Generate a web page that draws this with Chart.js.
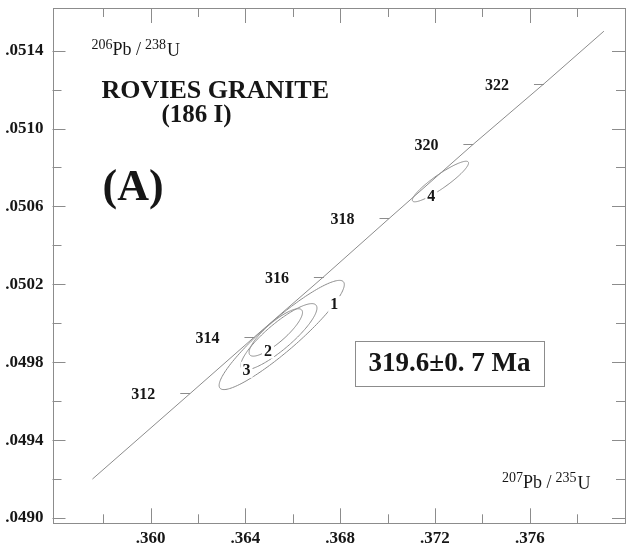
<!DOCTYPE html>
<html>
<head>
<meta charset="utf-8">
<script src="https://cdn.jsdelivr.net/npm/chart.js@4.4.1/dist/chart.umd.min.js"></script>
<style>
  html, body { margin: 0; padding: 0; background: #fff; }
  #wrap { width: 627px; height: 550px; }
</style>
</head>
<body>
<div id="wrap"><canvas id="chart" width="627" height="550"></canvas></div>
<script>
// Concordia: marked ages (Ma) with their 207Pb/235U and 206Pb/238U ratios
const concordiaAges = [312, 314, 316, 318, 320, 322];
const concordiaX = [0.36167, 0.36438, 0.36731, 0.37008, 0.37362, 0.37660];
const concordiaY = [0.04964, 0.04993, 0.05024, 0.05054, 0.05092, 0.05123];
// ends of the drawn concordia segment
const concordiaEndX = [0.35754, 0.37913];
const concordiaEndY = [0.04920, 0.05150];

// Zircon analyses: centres, half-extents of the error ellipses and error correlation
const spotLabels = ['1', '2', '3', '4'];
const spotX = [0.36553, 0.36528, 0.36541, 0.37223];
const spotY = [0.049940, 0.049953, 0.049931, 0.050728];
const spotHalfX = [0.002642, 0.001127, 0.001608, 0.001186];
const spotHalfY = [0.0002804, 0.0001217, 0.0001700, 0.0001042];
const spotRho = [0.923, 0.842, 0.866, 0.912];

// Axis ticks
const xMajorTicks = [0.360, 0.364, 0.368, 0.372, 0.376];
const xTickLabels = ['.360', '.364', '.368', '.372', '.376'];
const xMinorTicks = [0.358, 0.362, 0.366, 0.370, 0.374, 0.378];
const yMajorTicks = [0.0490, 0.0494, 0.0498, 0.0502, 0.0506, 0.0510, 0.0514];
const yTickLabels = ['.0490', '.0494', '.0498', '.0502', '.0506', '.0510', '.0514'];
const yMinorTicks = [0.0492, 0.0496, 0.0500, 0.0504, 0.0508, 0.0512];

const sampleName = 'ROVIES GRANITE';
const sampleCode = '(186 I)';
const panelTag = '(A)';
const ageResult = '319.6±0. 7 Ma';

// ---- layout / style ----
const X_MIN = 0.355855, X_MAX = 0.38002;
const Y_MIN = 0.048973, Y_MAX = 0.051619;
const LINE = '#8c8c8c';
const INK = '#161616';
const SERIF = '"Liberation Serif", "DejaVu Serif", serif';
const labelAngleDeg = [-33, -107, -148, -109];   // where each spot number sits on its ellipse
const resultAnchor = { x: 0.372612, y: 0.049798 }; // centre of the result box

const concordiaPoints = [{ x: concordiaEndX[0], y: concordiaEndY[0] }]
  .concat(concordiaX.map((v, i) => ({ x: v, y: concordiaY[i] })))
  .concat([{ x: concordiaEndX[1], y: concordiaEndY[1] }]);

function ellipsePoint(i, t) {
  const s = Math.sqrt(1 - spotRho[i] * spotRho[i]);
  return {
    x: spotX[i] + spotHalfX[i] * Math.cos(t),
    y: spotY[i] + spotHalfY[i] * (spotRho[i] * Math.cos(t) + s * Math.sin(t))
  };
}

function drawRatio(ctx, x0, base, massA, elA, massB, elB) {
  const small = '14px ' + SERIF, big = '18px ' + SERIF;
  const parts = [
    [massA, small, -6, 0], [elA, big, 0, 0], [' /', big, 0, 4],
    [massB, small, -6, 1], [elB, big, 1, 0]
  ];
  let x = x0;
  ctx.textAlign = 'left';
  ctx.textBaseline = 'alphabetic';
  parts.forEach(([txt, f, dy, gap]) => {
    ctx.font = f;
    ctx.fillText(txt, x, base + dy);
    x += ctx.measureText(txt).width + gap;
  });
}

const overlay = {
  id: 'overlay',
  afterDatasetsDraw(chart) {
    const { ctx, chartArea: a, scales: { x, y } } = chart;
    ctx.save();

    // frame
    ctx.strokeStyle = LINE;
    ctx.lineWidth = 1;
    ctx.strokeRect(Math.round(a.left) + 0.5, Math.round(a.top) + 0.5,
                   Math.round(a.right - a.left) - 1, Math.round(a.bottom - a.top));

    // inward ticks on all four sides
    const tick = (x1, y1, x2, y2) => {
      ctx.beginPath(); ctx.moveTo(x1, y1); ctx.lineTo(x2, y2); ctx.stroke();
    };
    const xt = (vals, len) => vals.forEach(v => {
      const px = Math.round(x.getPixelForValue(v)) + 0.5;
      tick(px, a.bottom, px, a.bottom - len);
      tick(px, a.top, px, a.top + len);
    });
    const yt = (vals, len) => vals.forEach(v => {
      const py = Math.round(y.getPixelForValue(v)) + 0.5;
      tick(a.left, py, a.left + len, py);
      tick(a.right, py, a.right - len, py);
    });
    xt(xMajorTicks, 15); xt(xMinorTicks, 9);
    yt(yMajorTicks, 13); yt(yMinorTicks, 9);

    // age marks on the concordia
    ctx.font = 'bold 16px ' + SERIF;
    ctx.fillStyle = INK;
    ctx.textAlign = 'right';
    ctx.textBaseline = 'middle';
    concordiaAges.forEach((age, i) => {
      const px = x.getPixelForValue(concordiaX[i]);
      const py = Math.round(y.getPixelForValue(concordiaY[i])) + 0.5;
      tick(px - 10, py, px, py);
      ctx.fillText(String(age), px - 35, py + 1);
    });

    // error ellipses
    ctx.strokeStyle = LINE;
    spotLabels.forEach((lab, i) => {
      ctx.beginPath();
      const n = 160;
      for (let k = 0; k <= n; k++) {
        const p = ellipsePoint(i, 2 * Math.PI * k / n);
        const px = x.getPixelForValue(p.x), py = y.getPixelForValue(p.y);
        if (k === 0) ctx.moveTo(px, py); else ctx.lineTo(px, py);
      }
      ctx.closePath();
      ctx.stroke();
    });
    // spot numbers, knocked out of the ellipse outline
    ctx.font = 'bold 16px ' + SERIF;
    ctx.textAlign = 'center';
    ctx.textBaseline = 'middle';
    spotLabels.forEach((lab, i) => {
      const p = ellipsePoint(i, labelAngleDeg[i] * Math.PI / 180);
      const px = x.getPixelForValue(p.x), py = y.getPixelForValue(p.y);
      ctx.fillStyle = '#fff';
      ctx.fillRect(px - 6, py - 8, 12, 16);
      ctx.fillStyle = INK;
      ctx.fillText(lab, px, py + 1);
    });

    // sample name and panel tag
    ctx.fillStyle = INK;
    ctx.textAlign = 'left';
    ctx.textBaseline = 'alphabetic';
    ctx.font = 'bold 26px ' + SERIF;
    ctx.fillText(sampleName, a.left + 49, a.top + 90);
    ctx.textAlign = 'center';
    ctx.font = 'bold 25px ' + SERIF;
    ctx.fillText(sampleCode, a.left + 144, a.top + 114);
    ctx.textAlign = 'left';
    ctx.font = 'bold 44px ' + SERIF;
    ctx.fillText(panelTag, a.left + 50, a.top + 192);

    // isotope ratio axis names
    ctx.fillStyle = INK;
    drawRatio(ctx, a.left + 39, a.top + 47, '206', 'Pb', '238', 'U');
    drawRatio(ctx, a.right - 123, a.bottom - 35, '207', 'Pb', '235', 'U');

    // concordia age result
    const bx = x.getPixelForValue(resultAnchor.x), by = y.getPixelForValue(resultAnchor.y);
    ctx.font = 'bold 27px ' + SERIF;
    ctx.textAlign = 'center';
    ctx.textBaseline = 'middle';
    ctx.fillText(ageResult, bx, by + 1);
    ctx.strokeStyle = LINE;
    ctx.strokeRect(Math.round(bx - 94) + 0.5, Math.round(by - 22) + 0.5, 189, 45);

    ctx.restore();
  }
};

new Chart(document.getElementById('chart'), {
  type: 'scatter',
  data: {
    datasets: [{
      data: concordiaPoints,
      showLine: true,
      borderColor: LINE,
      borderWidth: 1,
      pointRadius: 0,
      tension: 0
    }]
  },
  options: {
    responsive: false,
    animation: false,
    events: [],
    layout: { padding: { top: 8, right: 2, left: 0, bottom: 0 } },
    plugins: { legend: { display: false }, tooltip: { enabled: false } },
    scales: {
      x: {
        type: 'linear', min: X_MIN, max: X_MAX,
        grid: { display: false, drawTicks: false },
        border: { display: false },
        afterBuildTicks: s => { s.ticks = xMajorTicks.map(v => ({ value: v })); },
        afterFit: s => { s.height = 26.7; s.paddingLeft = 0; s.paddingRight = 0; },
        ticks: {
          autoSkip: false, maxRotation: 0, padding: 5, color: INK,
          font: { family: SERIF, size: 17, weight: 'bold' },
          callback: (v, i) => xTickLabels[i]
        }
      },
      y: {
        type: 'linear', min: Y_MIN, max: Y_MAX,
        grid: { display: false, drawTicks: false },
        border: { display: false },
        afterBuildTicks: s => { s.ticks = yMajorTicks.map(v => ({ value: v })); },
        afterFit: s => { s.width = 52.5; s.paddingTop = 0; s.paddingBottom = 0; },
        ticks: {
          autoSkip: false, padding: 9, color: INK,
          font: { family: SERIF, size: 17, weight: 'bold' },
          callback: (v, i) => yTickLabels[i]
        }
      }
    }
  },
  plugins: [overlay]
});
</script>
</body>
</html>
